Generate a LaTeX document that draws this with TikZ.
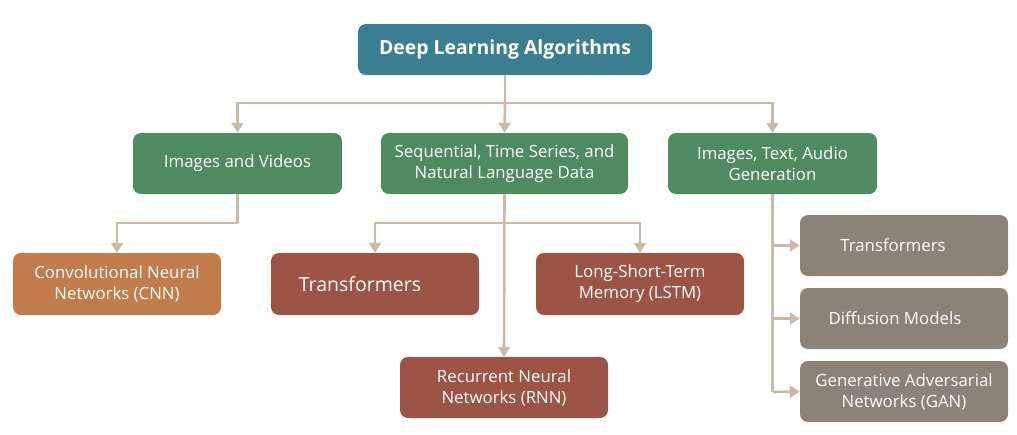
\documentclass[tikz,border=0pt]{standalone}
\usepackage{fontspec}
\setmainfont{Open Sans}
\usetikzlibrary{arrows.meta}
\definecolor{teal1}{HTML}{3B7E8F}
\definecolor{green1}{HTML}{4F8A63}
\definecolor{cnnc}{HTML}{C27C4B}
\definecolor{brick}{HTML}{9C5446}
\definecolor{grayb}{HTML}{8C8277}
\definecolor{connc}{HTML}{C9B9A7}
\tikzset{
  box/.style={rounded corners=8pt, text=white, align=center, inner sep=2pt,
    font=\fontsize{16.8}{21}\selectfont},
  rootbox/.style={box, fill=teal1, minimum width=294pt, minimum height=51pt,
    font=\fontsize{19.4}{22}\selectfont\bfseries},
  catbox/.style={box, fill=green1, minimum height=61pt},
  cnnbox/.style={box, fill=cnnc, minimum width=208pt, minimum height=62pt},
  brickbox/.style={box, fill=brick, minimum width=208pt, minimum height=62pt},
  genbox/.style={box, fill=grayb, minimum width=208pt, minimum height=61pt},
  conn/.style={draw=connc, line width=2.6pt, -{Triangle[width=12pt,length=10pt]}},
  line/.style={draw=connc, line width=2.6pt}
}
\begin{document}
\begin{tikzpicture}[x=1pt,y=-1pt]
\useasboundingbox (0,0) rectangle (1017,434);
\node[rootbox] (root) at (505,49.5) {Deep Learning Algorithms};
\node[catbox, minimum width=209pt] (iv) at (237.5,163.5) {Images and Videos};
\node[catbox, minimum width=247pt] (seq) at (504.5,163.5) {Sequential, Time Series, and\\Natural Language Data};
\node[catbox, minimum width=209pt] (gen) at (772.5,163.5) {Images, Text, Audio\\Generation};
\node[cnnbox] (cnn) at (117,284) {Convolutional Neural\\Networks (CNN)};
\node[brickbox, font=\fontsize{19.5}{22}\selectfont] (tr) at (375,284) {\hspace*{-30pt}Transformers};
\node[brickbox] (lstm) at (640,284) {Long-Short-Term\\Memory (LSTM)};
\node[brickbox, minimum height=61pt] (rnn) at (504,387.5) {Recurrent Neural\\Networks (RNN)};
\node[genbox] (rt) at (904,245.5) {\hspace*{-22pt}Transformers};
\node[genbox] (diff) at (904,318.5) {\hspace*{-18pt}Diffusion Models};
\node[genbox] (gan) at (904,391.5) {Generative Adversarial\\Networks (GAN)};
% junctions
\coordinate (j1) at (505,103);
\coordinate (j2) at (237.5,223);
\coordinate (j3) at (504.5,223);
\coordinate (j4) at (772.5,392);
% root to categories
\draw[line] (root.south) -- (j1);
\draw[conn] (j1) -| (iv.north);
\draw[conn] (j1) -- (seq.north);
\draw[conn] (j1) -| (gen.north);
% images and videos
\draw[line] (iv.south) -- (j2);
\draw[conn] (j2) -| (cnn.north);
% sequential
\draw[conn] (seq.south) -- (rnn.north);
\draw[conn] (j3) -| (tr.north);
\draw[conn] (j3) -| (lstm.north);
% generation
\draw[line] (gen.south) -- (j4);
\draw[conn] (gen.south |- rt.west) -- (rt.west);
\draw[conn] (gen.south |- diff.west) -- (diff.west);
\draw[conn] (j4) -- (gan.west);
\end{tikzpicture}
\end{document}
